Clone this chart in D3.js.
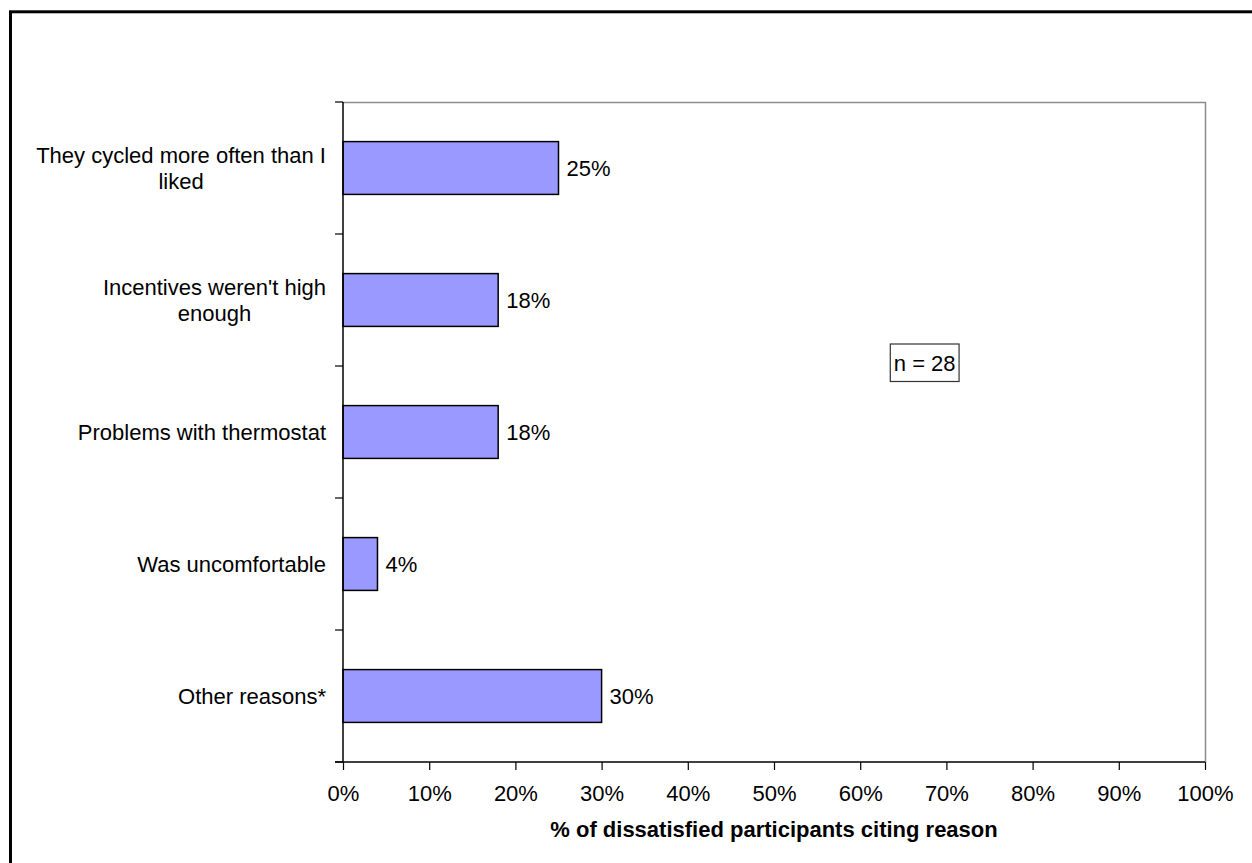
<!DOCTYPE html>
<html>
<head>
<meta charset="utf-8">
<script src="https://cdn.jsdelivr.net/npm/d3@7"></script>
<style>
  html, body { margin: 0; padding: 0; background: #fff; }
  svg { display: block; font-family: Arial, "Liberation Sans", sans-serif; }
</style>
</head>
<body>
<svg id="chart" width="1252" height="863"></svg>
<script>
// Reasons for dissatisfaction and share of participants citing each
const categories = [
  "They cycled more often than I liked",
  "Incentives weren't high enough",
  "Problems with thermostat",
  "Was uncomfortable",
  "Other reasons*"
];
// Wrapped label lines for each category
const labelLines = [
  ["They cycled more often than I", "liked"],
  ["Incentives weren't high", "enough"],
  ["Problems with thermostat"],
  ["Was uncomfortable"],
  ["Other reasons*"]
];
const values = [0.25, 0.18, 0.18, 0.04, 0.30];
const valueLabels = ["25%", "18%", "18%", "4%", "30%"];
const xTicks = [0, 0.1, 0.2, 0.3, 0.4, 0.5, 0.6, 0.7, 0.8, 0.9, 1.0];
const xTitle = "% of dissatisfied participants citing reason";
const noteText = "n = 28";

const FS = 22;
const svg = d3.select("#chart");
const plot = { left: 343, right: 1205, top: 102, bottom: 762 };

// Outer frame (only top and left edges fall inside the page)
svg.append("rect")
  .attr("x", 10.5).attr("y", 11.8)
  .attr("width", 1300).attr("height", 900)
  .attr("fill", "none").attr("stroke", "#000").attr("stroke-width", 3);

const x = d3.scaleLinear().domain([0, 1]).range([plot.left, plot.right]);
const y = d3.scaleBand().domain(categories)
  .range([plot.top, plot.bottom])
  .paddingInner(0.6).paddingOuter(0.3);

// Plot area border: grey top and right edges
svg.append("path")
  .attr("d", `M${plot.left},${plot.top + 0.5}H${plot.right + 0.5}V${plot.bottom}`)
  .attr("fill", "none").attr("stroke", "#8c8c8c").attr("stroke-width", 1.5);

// Bars
svg.append("g").selectAll("rect")
  .data(values)
  .join("rect")
  .attr("x", x(0))
  .attr("y", (d, i) => y(categories[i]))
  .attr("width", d => x(d) - x(0))
  .attr("height", y.bandwidth())
  .attr("fill", "#9999ff")
  .attr("stroke", "#000")
  .attr("stroke-width", 1.5);

// Value labels at bar ends
svg.append("g").selectAll("text")
  .data(values)
  .join("text")
  .attr("x", d => x(d) + 8)
  .attr("y", (d, i) => y(categories[i]) + y.bandwidth() / 2 + 8)
  .attr("font-size", FS)
  .attr("fill", "#000")
  .text((d, i) => valueLabels[i]);

// Category axis: line and ticks at band boundaries
const yAxisG = svg.append("g");
yAxisG.append("line")
  .attr("x1", plot.left).attr("x2", plot.left)
  .attr("y1", plot.top).attr("y2", plot.bottom)
  .attr("stroke", "#000").attr("stroke-width", 1.5);
const boundaries = categories.map(c => y(c) - (y.step() - y.bandwidth()) / 2)
  .concat([plot.bottom]);
yAxisG.selectAll("line.tick")
  .data(boundaries)
  .join("line")
  .attr("class", "tick")
  .attr("x1", plot.left - 8).attr("x2", plot.left)
  .attr("y1", d => d).attr("y2", d => d)
  .attr("stroke", "#000").attr("stroke-width", 1.2);

// Category labels, centred per line and right-aligned as a block
const labelRight = 326;
labelLines.forEach((lines, i) => {
  const cy = y(categories[i]) + y.bandwidth() / 2;
  const g = svg.append("g");
  const texts = lines.map(ln => g.append("text")
    .attr("font-size", FS)
    .attr("fill", "#000")
    .text(ln));
  const widths = texts.map(t => t.node().getComputedTextLength());
  const maxW = Math.max(...widths);
  const centerX = labelRight - maxW / 2;
  const base = lines.length === 1 ? [cy + 8] : [cy - 5, cy + 20.5];
  texts.forEach((t, j) => t.attr("x", centerX).attr("text-anchor", "middle").attr("y", base[j]));
});

// Value axis at the bottom
const xAxis = d3.axisBottom(x)
  .tickValues(xTicks)
  .tickFormat(d3.format(".0%"))
  .tickSize(8)
  .tickSizeOuter(0);
const xg = svg.append("g")
  .attr("transform", `translate(0,${plot.bottom})`)
  .call(xAxis);
xg.select(".domain").remove();
xg.append("line")
  .attr("x1", plot.left - 8).attr("x2", plot.right)
  .attr("y1", 0).attr("y2", 0)
  .attr("stroke", "#000").attr("stroke-width", 1.5);
xg.selectAll(".tick line").attr("stroke", "#000").attr("stroke-width", 1.2);
xg.selectAll(".tick text")
  .attr("font-size", FS)
  .attr("font-family", "Arial, 'Liberation Sans', sans-serif")
  .attr("fill", "#000")
  .attr("dy", null)
  .attr("y", 39);

// Axis title
svg.append("text")
  .attr("x", (plot.left + plot.right) / 2)
  .attr("y", 837)
  .attr("text-anchor", "middle")
  .attr("font-size", FS)
  .attr("font-weight", "bold")
  .attr("fill", "#000")
  .text(xTitle);

// Sample size note box
const note = svg.append("g").attr("transform", `translate(${x(0.6748)},363)`);
const noteT = note.append("text")
  .attr("text-anchor", "middle")
  .attr("y", 7.5)
  .attr("font-size", FS)
  .attr("fill", "#000")
  .text(noteText);
const nw = noteT.node().getComputedTextLength();
note.insert("rect", "text")
  .attr("x", -nw / 2 - 3.5).attr("y", -19)
  .attr("width", nw + 7).attr("height", 37.5)
  .attr("fill", "#fff").attr("stroke", "#333").attr("stroke-width", 1.2);
</script>
</body>
</html>
